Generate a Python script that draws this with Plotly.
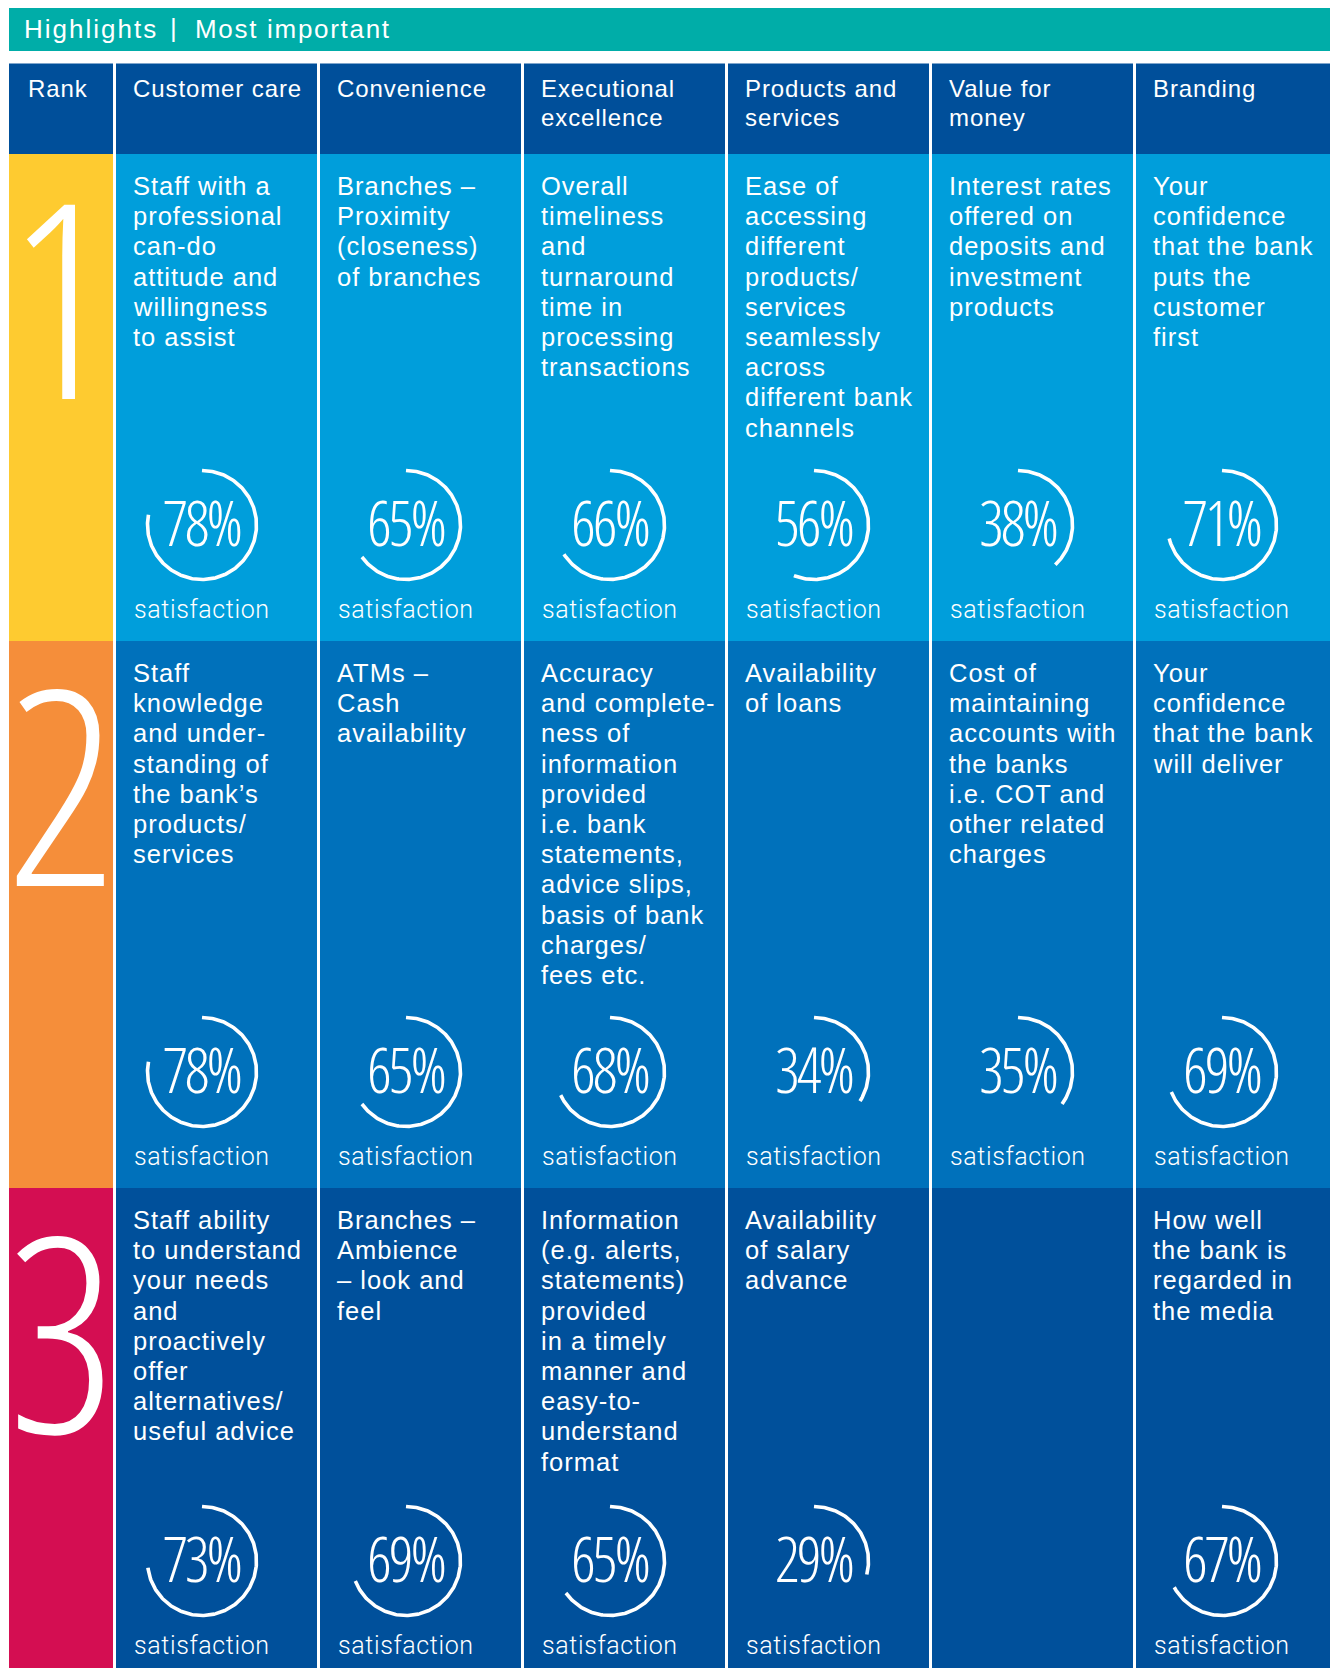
import numpy as np
import plotly.graph_objects as go

# ---------------- data ----------------
TITLE_LEFT = "Highlights"
TITLE_SEP = "|"
TITLE_RIGHT = "Most important"
HEADERS = ["Rank", "Customer care", "Convenience", "Executional<br>excellence",
           "Products and<br>services", "Value for<br>money", "Branding"]
RANKS = ["1", "2", "3"]

ITEMS_RANK1 = [
    "Staff with a<br>professional<br>can-do<br>attitude and<br>willingness<br>to assist",
    "Branches –<br>Proximity<br>(closeness)<br>of branches",
    "Overall<br>timeliness<br>and<br>turnaround<br>time in<br>processing<br>transactions",
    "Ease of<br>accessing<br>different<br>products/<br>services<br>seamlessly<br>across<br>different bank<br>channels",
    "Interest rates<br>offered on<br>deposits and<br>investment<br>products",
    "Your<br>confidence<br>that the bank<br>puts the<br>customer<br>first",
]
ITEMS_RANK2 = [
    "Staff<br>knowledge<br>and under-<br>standing of<br>the bank’s<br>products/<br>services",
    "ATMs –<br>Cash<br>availability",
    "Accuracy<br>and complete-<br>ness of<br>information<br>provided<br>i.e. bank<br>statements,<br>advice slips,<br>basis of bank<br>charges/<br>fees etc.",
    "Availability<br>of loans",
    "Cost of<br>maintaining<br>accounts with<br>the banks<br>i.e. COT and<br>other related<br>charges",
    "Your<br>confidence<br>that the bank<br>will deliver",
]
ITEMS_RANK3 = [
    "Staff ability<br>to understand<br>your needs<br>and<br>proactively<br>offer<br>alternatives/<br>useful advice",
    "Branches –<br>Ambience<br>– look and<br>feel",
    "Information<br>(e.g. alerts,<br>statements)<br>provided<br>in a timely<br>manner and<br>easy-to-<br>understand<br>format",
    "Availability<br>of salary<br>advance",
    "",
    "How well<br>the bank is<br>regarded in<br>the media",
]
SAT_RANK1 = [78, 65, 66, 56, 38, 71]
SAT_RANK2 = [78, 65, 68, 34, 35, 69]
SAT_RANK3 = [73, 69, 65, 29, None, 67]
SAT_LABEL = "satisfaction"

# ---------------- styling / layout (page pixel coordinates) ----------------
PAGE_W, PAGE_H = 1338, 1668
OFF = 8  # browser body margin
TEAL = "#00ADA8"
HEAD_BLUE = "#004F9A"
ROW_BLUES = ["#009EDB", "#0071BB", "#00509B"]
RANK_COLORS = ["#FECB30", "#F58E3A", "#D40E52"]

RANK_L, RANK_R = 9, 113
COL_L0, COL_STEP, COL_W = 116, 204, 201
HEAD_T, HEAD_B = 63.5, 154
ROW_T = [154, 641, 1188]
ROW_B = [641, 1188, 1677]
ARC_R = 54.5
TXT_PAD = 15

BODY_FONT = "Liberation Sans, Arial, sans-serif"
NUM_FONT = "Open Sans Condensed Light, Roboto Condensed, Liberation Sans Narrow, sans-serif"
SAT_FONT = "Roboto, Liberation Sans, sans-serif"


def spaced(txt, ls):
    return f'<span style="letter-spacing:{ls}px">{txt}</span>'


fig = go.Figure()
shapes = []
anns = []


def rect(x0, x1, y0, y1, color):
    shapes.append(dict(type="rect", xref="x", yref="y", x0=x0, x1=x1, y0=y0, y1=y1,
                       fillcolor=color, line=dict(width=0), layer="below"))


# title bar
rect(RANK_L, PAGE_W, 7, 51, TEAL)
anns.append(dict(x=22, y=29, text=spaced(TITLE_LEFT, 2.0), xanchor="left", yanchor="middle",
                 font=dict(family=BODY_FONT, size=26, color="white")))
anns.append(dict(x=173, y=28, text=TITLE_SEP, xanchor="center", yanchor="middle",
                 font=dict(family=BODY_FONT, size=26, color="white")))
anns.append(dict(x=193, y=29, text=spaced(TITLE_RIGHT, 1.7), xanchor="left", yanchor="middle",
                 font=dict(family=BODY_FONT, size=26, color="white")))

# header row
col_lefts = [RANK_L] + [COL_L0 + COL_STEP * i for i in range(6)]
col_rights = [RANK_R] + [COL_L0 + COL_STEP * i + COL_W for i in range(6)]
col_rights[-1] = PAGE_W
for j, head in enumerate(HEADERS):
    rect(col_lefts[j], col_rights[j], HEAD_T, HEAD_B, HEAD_BLUE)
    for k, line in enumerate(head.split("<br>")):
        anns.append(dict(x=col_lefts[j] + (17 if j == 0 else TXT_PAD), y=88 + 29 * k,
                         text=spaced(line, 0.9), xanchor="left", yanchor="middle",
                         font=dict(family=BODY_FONT, size=24, color="white")))

items = [ITEMS_RANK1, ITEMS_RANK2, ITEMS_RANK3]
sats = [SAT_RANK1, SAT_RANK2, SAT_RANK3]

for r in range(3):
    rt, rb = ROW_T[r], ROW_B[r]
    rect(RANK_L, RANK_R, rt, min(rb, PAGE_H), RANK_COLORS[r])
    anns.append(dict(x=(RANK_L + RANK_R) / 2, y=rt + 139, text=RANKS[r], xanchor="center",
                     yanchor="middle", font=dict(family=NUM_FONT, size=272, color="white")))
    for c in range(6):
        x0 = col_lefts[c + 1]
        rect(x0, col_rights[c + 1], rt, min(rb, PAGE_H), ROW_BLUES[r])
        txt = items[r][c]
        if txt:
            for k, line in enumerate(txt.split("<br>")):
                anns.append(dict(x=x0 + TXT_PAD, y=rt + 32 + 30.2 * k, text=spaced(line, 1.0),
                                 xanchor="left", yanchor="middle",
                                 font=dict(family=BODY_FONT, size=25.5, color="white")))
        pct = sats[r][c]
        if pct is None:
            continue
        cx, cy = x0 + 86, rb - 116
        th = np.linspace(0, 2 * np.pi * pct / 100, int(pct * 3) + 2)
        fig.add_trace(go.Scatter(x=cx + ARC_R * np.sin(th), y=cy - ARC_R * np.cos(th),
                                 mode="lines", line=dict(color="white", width=3.6),
                                 hoverinfo="skip", showlegend=False))
        anns.append(dict(x=cx, y=cy - 3, text=spaced(f"{pct}%", -3), xanchor="center",
                         yanchor="middle", font=dict(family=NUM_FONT, size=62, color="white")))
        anns.append(dict(x=cx, y=rb - 31.5, text=spaced(SAT_LABEL, 0.6), xanchor="center",
                         yanchor="middle",
                         font=dict(family=SAT_FONT, size=25, color="white", weight=300)))

for a in anns:
    a.update(xref="x", yref="y", showarrow=False)

fig.update_layout(
    width=PAGE_W - OFF, height=PAGE_H - OFF, margin=dict(l=0, r=0, t=0, b=0),
    paper_bgcolor="white", plot_bgcolor="white",
    xaxis=dict(range=[OFF, PAGE_W], visible=False, fixedrange=True),
    yaxis=dict(range=[PAGE_H, OFF], visible=False, fixedrange=True),
    shapes=shapes, annotations=anns, showlegend=False,
)
fig.write_html("out.html")
